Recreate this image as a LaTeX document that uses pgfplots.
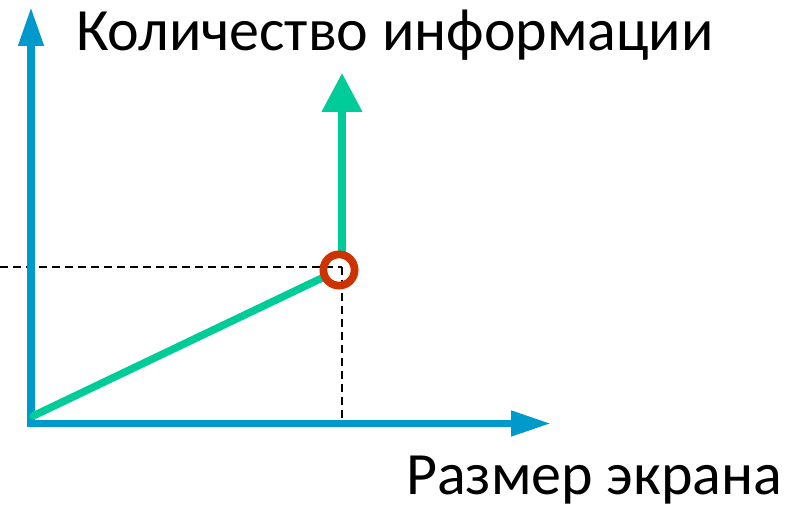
\documentclass[border=0pt]{standalone}
\usepackage{fontspec}
\setmainfont{Carlito}
\usepackage{pgfplots}
\pgfplotsset{compat=1.18}
\usetikzlibrary{arrows.meta}
\definecolor{axblue}{HTML}{0099CC}
\definecolor{lgreen}{HTML}{00CC99}
\definecolor{cred}{HTML}{CC3300}
\begin{document}
\begin{tikzpicture}[x=1bp,y=1bp]
\begin{axis}[
  scale only axis, width=804bp, height=506bp,
  xmin=0, xmax=804, ymin=0, ymax=506,
  axis lines=none, ticks=none, clip=false,
]
% dashed guides
\addplot[black, line width=2bp, dash pattern=on 8bp off 5bp] coordinates {(0,239) (342,239)};
\addplot[black, line width=2bp, dash pattern=on 8bp off 5bp] coordinates {(342,239) (342,86)};
% axes
\addplot[axblue, line width=7.5bp, -{Triangle[length=39bp,width=24bp]}] coordinates {(31,79) (31,499)};
\addplot[axblue, line width=7.5bp, -{Triangle[length=40bp,width=24bp]}] coordinates {(28,82.5) (551,82.5)};
% green curve
\addplot[lgreen, line width=7.5bp, line cap=round] coordinates {(33,90) (322,228)};
\addplot[lgreen, line width=7.5bp, -{Triangle[length=39bp,width=39bp]}] coordinates {(342,253) (342,433)};
% circle
\addplot[cred, only marks, mark=o, mark options={line width=7.8bp, draw=cred}, mark size=15.6bp] coordinates {(339,236)};
% labels
\node[anchor=base west, inner sep=0pt, font=\fontsize{60bp}{66bp}\selectfont] at (axis cs:76,455) {Количество информации};
\node[anchor=base west, inner sep=0pt, font=\fontsize{60bp}{66bp}\selectfont] at (axis cs:406,11.5) {Размер экрана};
\end{axis}
\pgfresetboundingbox
\path[use as bounding box] (current axis.south west) rectangle (current axis.north east);
\end{tikzpicture}
\end{document}
